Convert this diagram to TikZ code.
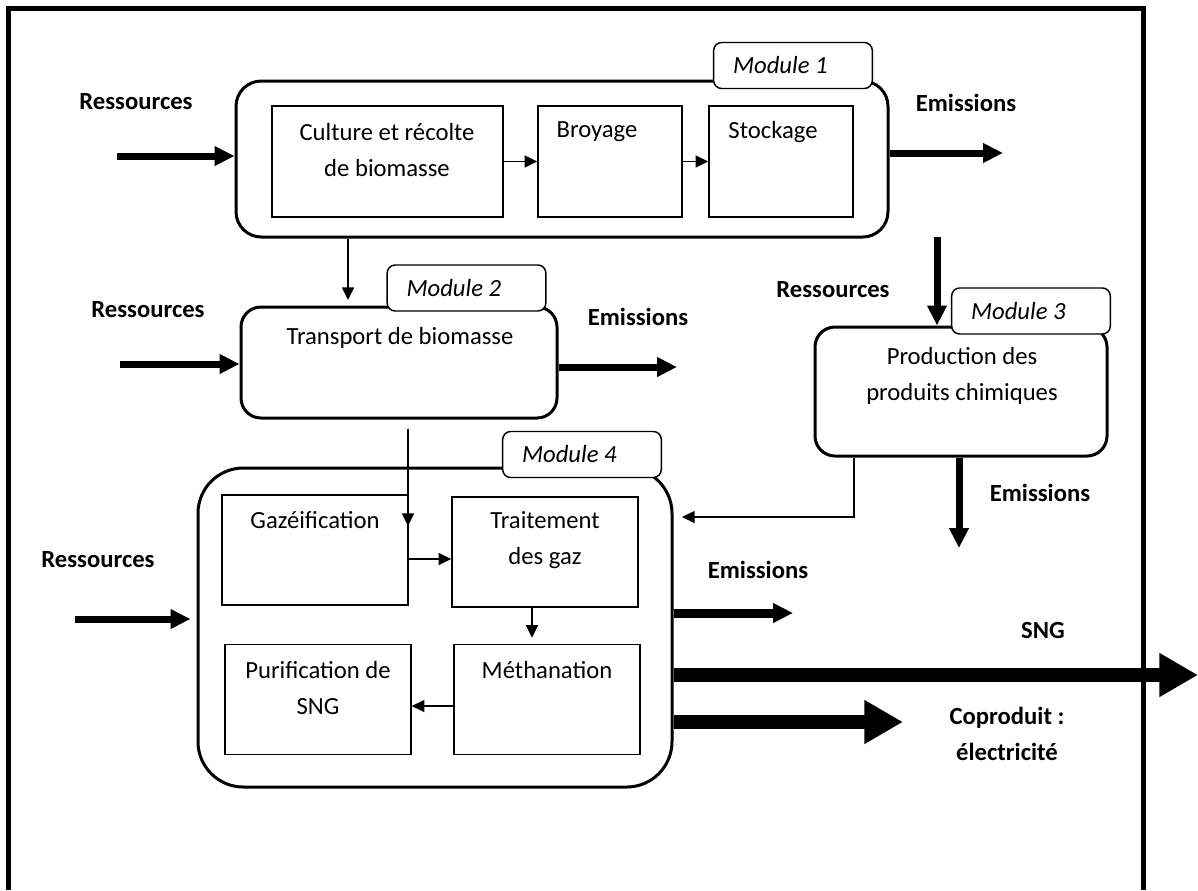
\documentclass[tikz,border=0pt]{standalone}
\usepackage{fontspec}
\setmainfont{Carlito}
\usetikzlibrary{arrows.meta, positioning}
\tikzset{module/.style={draw,line width=2.25pt,rounded corners=15pt,inner sep=0pt},
         tab/.style={draw,line width=1.1pt,rounded corners=6pt,fill=white,minimum height=34.5pt,text width=90pt,align=flush left,inner xsep=14.5pt,font=\itshape},
         stepbox/.style={draw,line width=1.1pt,minimum width=139.5pt,minimum height=82.5pt,inner sep=0pt},
         txt/.style={align=center,inner sep=0pt},
         lbl/.style={font=\bfseries,inner sep=0pt},
         link/.style={line width=1.1pt,-{Triangle[length=9.5pt,width=9pt]}},
         flow/.style={line width=5.25pt,-{Triangle[length=15pt,width=14pt]}},
         bigflow/.style={line width=11pt,-{Triangle[length=29pt,width=31pt]}},
        }
\begin{document}
\fontsize{18.5}{27}\selectfont
\begin{tikzpicture}[x=0.75pt,y=-0.75pt]
        \useasboundingbox (0,0) rectangle (1198,890);
        \draw[line width=3.75pt] (8.5,890) -- (8.5,8) -- (1143,8) -- (1143,890);
        % Module 1
        \node[module,rounded corners=19pt,minimum width=489pt,minimum height=117pt](m1)at(562,159){};
        \node[tab](t1)at(793,65.5){Module 1};
        \node[stepbox,minimum width=173.25pt,minimum height=83.25pt](cult)at(387.5,161.5){};
        \node[stepbox,minimum width=108pt,minimum height=83.25pt](broy)at(610,161.5){};
        \node[stepbox,minimum width=108pt,minimum height=83.25pt](stock)at(781,161.5){};
        \node[txt](cultx)at(387,150){Culture et récolte\\de biomasse};
        \node[txt](broyx)at(597,132){Broyage};
        \node[txt](stockx)at(773,132){Stockage};
        % Module 2
        \node[module,minimum width=237pt,minimum height=83.25pt](m2)at(399,362.5){};
        \node[tab](t2)at(466.5,288){Module 2};
        \node[txt](m2x)at(400,338){Transport de biomasse};
        % Module 3
        \node[module,minimum width=219pt,minimum height=96.75pt](m3)at(961,391.5){};
        \node[tab](t3)at(1031,311){Module 3};
        \node[txt](m3x)at(962,376){Production des\\produits chimiques};
        % Module 4
        \node[module,rounded corners=34pt,minimum width=355.5pt,minimum height=239.25pt](m4)at(435,627.5){};
        \node[tab](t4)at(582,454.5){Module 4};
        \node[stepbox](gaz)at(315,550){};
        \node[stepbox](trait)at(545,552){};
        \node[stepbox](purif)at(318,699.5){};
        \node[stepbox](meth)at(547,699.5){};
        \node[txt](gazx)at(315,520){Gazéification};
        \node[txt](traitx)at(545,540){Traitement\\des gaz};
        \node[txt](purifx)at(318,688){Purification de\\SNG};
        \node[txt](methx)at(547,670){Méthanation};
        % labels
        \node[lbl](res1)at(136,102){Ressources};
        \node[lbl](em1)at(966,103){Emissions};
        \node[lbl](res2)at(148,310){Ressources};
        \node[lbl](em2)at(638,317){Emissions};
        \node[lbl](res3)at(833,290){Ressources};
        \node[lbl](em3)at(1040,493){Emissions};
        \node[lbl](res4)at(98,560){Ressources};
        \node[lbl](em4)at(758,570){Emissions};
        \node[lbl](sngx)at(1043,630){SNG};
        \node[lbl,align=center](copx)at(1007,734){Coproduit :\\électricité};
        % free ends
        \coordinate(r1)at(117,156);
        \coordinate(e1)at(1003,153);
        \coordinate(r2)at(120,364);
        \coordinate(e2)at(677,367);
        \coordinate(r3)at(937,237);
        \coordinate(e3)at(959,548);
        \coordinate(r4)at(75,619);
        \coordinate(e4)at(793,613);
        \coordinate(sng)at(1198,675);
        \coordinate(cop)at(903,722);
        \coordinate(c12)at(348,300);
        \coordinate(c24)at(408,526);
        \coordinate(c34)at(854,517);
        \coordinate(c43)at(682,517);
        % flows
        \draw[flow](r1)--(r1 -| m1.west);
        \draw[flow](e1 -| m1.east)--(e1);
        \draw[flow](r2)--(r2 -| m2.west);
        \draw[flow](e2 -| m2.east)--(e2);
        \draw[flow](r3)--(r3 |- m3.north);
        \draw[flow](e3 |- m3.south)--(e3);
        \draw[flow,shorten >=4.5pt](r4)--(r4 -| m4.west);
        \draw[flow,line width=6.75pt](e4 -| m4.east)--(e4);
        \draw[bigflow](sng -| m4.east)--(sng);
        \draw[bigflow](cop -| m4.east)--(cop);
        % links
        \draw[link](c12 |- m1.south)--(c12);
        \draw[link,shorten <=6.75pt](c24 |- m2.south)--(c24);
        \draw[link](c34 |- m3.south)|-(c43);
        \draw[link](cult)--(broy);
        \draw[link](broy)--(stock);
        \draw[link]([yshift=-6.75pt]gaz.east)--([yshift=-6.75pt]gaz.east -| trait.west);
        \draw[link,shorten >=4.5pt]([xshift=-9.75pt]trait.south)--([xshift=-9.75pt]trait.south |- meth.north);
        \draw[link]([yshift=-4.9pt]meth.west)--([yshift=-4.9pt]meth.west -| purif.east);
    \end{tikzpicture}
\end{document}
